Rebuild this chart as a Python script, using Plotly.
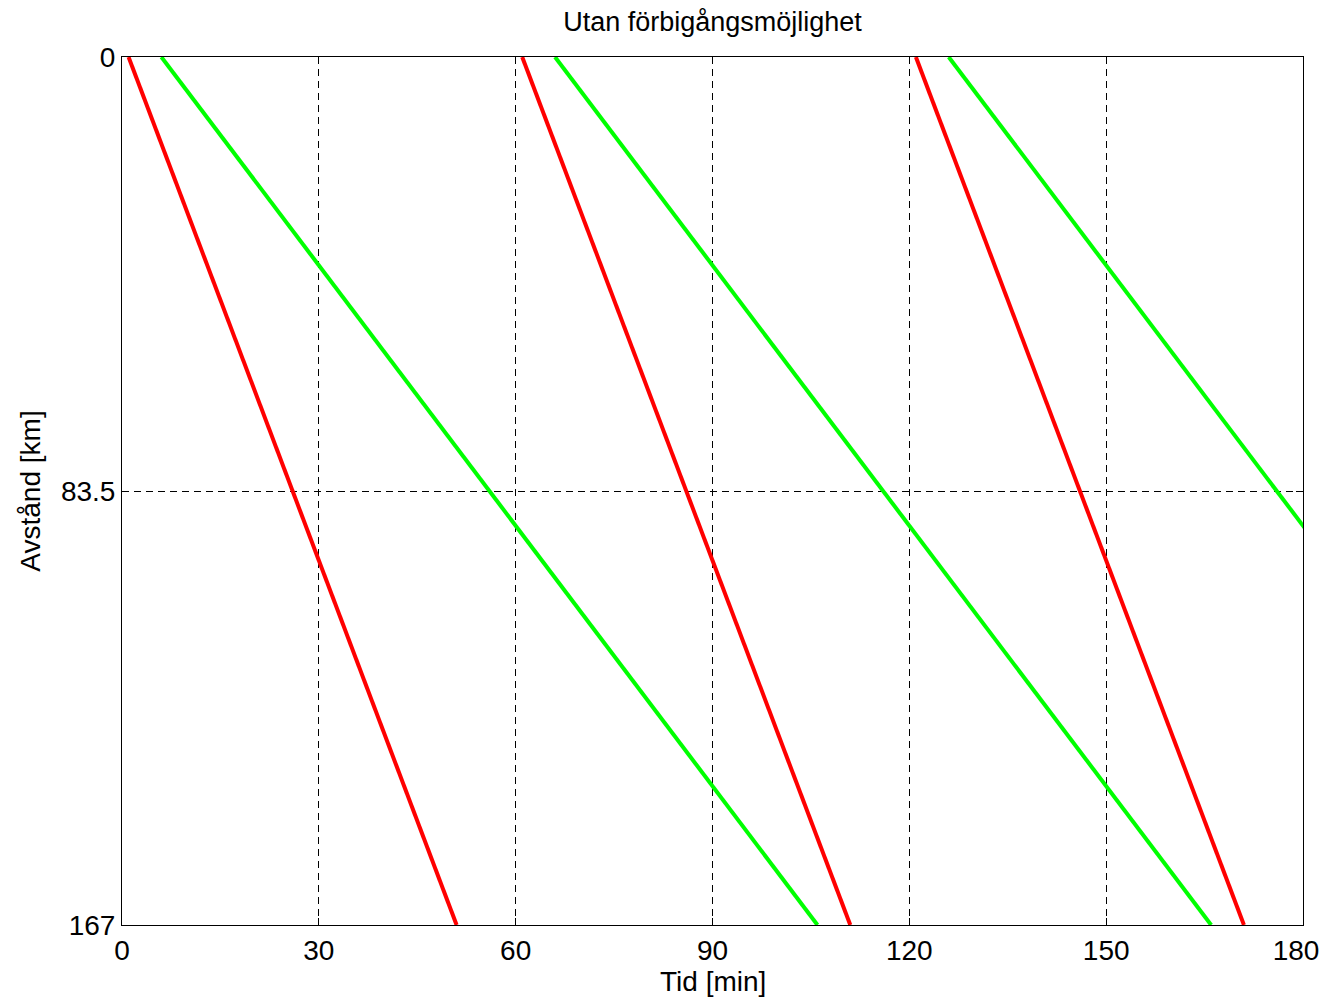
import plotly.graph_objects as go

# Train paths: departure / arrival times [min] over the 167 km line
red_start = [1, 61, 121]
red_end = [51, 111, 171]
green_start = [6, 66, 126]
green_end = [106, 166, 226]
dist_start = 0
dist_end = 167

x_ticks = [0, 30, 60, 90, 120, 150, 180]
# last label padded so it stays inside the page edge
x_tick_labels = ["0", "30", "60", "90", "120", "150", "180\u2002"]
y_ticks = [0, 83.5, 167]
y_tick_labels = ["0", "83.5", "167"]

FONT = "Liberation Sans, Arial"

fig = go.Figure()
for s, e in zip(red_start, red_end):
    fig.add_trace(go.Scatter(x=[s, e], y=[dist_start, dist_end], mode="lines",
                             line=dict(color="#ff0000", width=4), showlegend=False))
for s, e in zip(green_start, green_end):
    fig.add_trace(go.Scatter(x=[s, e], y=[dist_start, dist_end], mode="lines",
                             line=dict(color="#00ff00", width=4), showlegend=False))

axis_common = dict(
    showline=True, linecolor="black", linewidth=1, mirror="ticks",
    ticks="inside", ticklen=7, tickcolor="black",
    showgrid=True, gridcolor="black", gridwidth=1, griddash="7px,5px",
    zeroline=False, tickfont=dict(family=FONT, size=28, color="black"),
    automargin=False, ticklabeloverflow="allow",
)

fig.update_layout(
    width=1323, height=990,
    paper_bgcolor="white", plot_bgcolor="white",
    margin=dict(l=114, r=28, t=49, b=73),
    title=dict(text="Utan förbigångsmöjlighet", xref="paper", x=0.5, xanchor="center",
               yref="container", y=1 - 14 / 990, yanchor="middle",
               font=dict(family=FONT, size=27, color="black")),
    xaxis=dict(range=[0, 180], tickvals=x_ticks, ticktext=x_tick_labels, **axis_common),
    yaxis=dict(range=[167, 0], tickvals=y_ticks, ticktext=y_tick_labels,
               title=dict(text="Avstånd [km]", font=dict(family=FONT, size=28, color="black"),
                          standoff=12),
               **axis_common),
    annotations=[dict(text="Tid [min]", xref="paper", yref="paper", x=0.5, y=0,
                      xanchor="center", yanchor="middle", yshift=-56, showarrow=False,
                      font=dict(family=FONT, size=28, color="black"))],
)

fig.write_html("out.html")
